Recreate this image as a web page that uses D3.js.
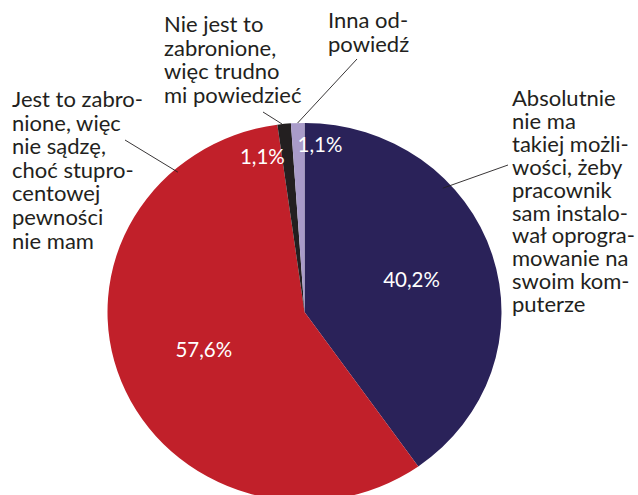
<!DOCTYPE html>
<html>
<head>
<meta charset="utf-8">
<script src="https://cdn.jsdelivr.net/npm/d3@7"></script>
<style>
  body { margin: 0; background: #fff; }
  svg { display: block; }
  .lbl { font-family: Lato, "Open Sans", sans-serif; font-size: 22px; fill: #231f20; }
  .pct { font-family: Lato, "Open Sans", sans-serif; font-size: 20.5px; fill: #fff; }
</style>
</head>
<body>
<div id="chart"></div>
<script>
// data, clockwise from 12 o'clock
const categories = [
    "Absolutnie nie ma takiej możliwości, żeby pracownik sam instalował oprogramowanie na swoim komputerze",
    "Jest to zabronione, więc nie sądzę, choć stuprocentowej pewności nie mam",
    "Nie jest to zabronione, więc trudno mi powiedzieć",
    "Inna odpowiedź"
];
const values = [40.2, 57.6, 1.1, 1.1];
const valueLabels = ["40,2%", "57,6%", "1,1%", "1,1%"];
const labelLines = [
    ["Absolutnie", "nie ma", "takiej możli-", "wości, żeby", "pracownik", "sam instalo-", "wał oprogra-", "mowanie na", "swoim kom-", "puterze"],
    ["Jest to zabro-", "nione, więc", "nie sądzę,", "choć stupro-", "centowej", "pewności", "nie mam"],
    ["Nie jest to", "zabronione,", "więc trudno", "mi powiedzieć"],
    ["Inna od-", "powiedź"]
];
const colors = ["#2a2259", "#c1202a", "#231f20", "#a99bc9"];

const width = 638, height = 495;
const cx = 304.5, cy = 312, r = 197, ky = 0.96;

// label blocks: left x, first baseline, line step, leader start, leader end (angle deg, radius factor)
const labelPos = [
    {x: 512, y: 106, step: 22.9, lx: 508, ly: 165, ea: 47,    ek: 0.96},
    {x: 12,  y: 107, step: 23.6, lx: 125, ly: 140, ea: 319,   ek: 0.98},
    {x: 164, y: 32,  step: 23.5, lx: 263, ly: 112, ea: 353.5, ek: 1.0},
    {x: 328, y: 28,  step: 24.2, lx: 357, ly: 59,  ea: 358,   ek: 1.0}
];
// percent labels: radius factor, anchor, small nudge
const pctPos = [
    {k: 0.57, anchor: "middle", dx: 0, dy: 0},
    {k: 0.55, anchor: "middle", dx: 0, dy: 0},
    {k: 0.87, anchor: "end", dx: -2, dy: 8},
    {k: 0.87, anchor: "start", dx: -1, dy: -3}
];

const svg = d3.select("#chart")
    .append("svg")
    .attr("width", width)
    .attr("height", height);

const pie = d3.pie().sort(null).value(d => d);
const arcs = pie(values);
const arc = d3.arc().innerRadius(0).outerRadius(r);

const g = svg.append("g")
    .attr("transform", `translate(${cx},${cy}) scale(1,${ky})`);

g.selectAll("path")
    .data(arcs)
    .enter()
    .append("path")
    .attr("d", arc)
    .attr("fill", (d, i) => colors[i]);

// point on the (squashed) pie at angle a, radius factor k
function pt(a, k) {
    return [cx + k * r * Math.sin(a), cy - k * r * ky * Math.cos(a)];
}

// leader lines from label to slice
labelPos.forEach(p => {
    const end = pt(p.ea * Math.PI / 180, p.ek);
    svg.append("line")
        .attr("x1", p.lx).attr("y1", p.ly)
        .attr("x2", end[0]).attr("y2", end[1])
        .attr("stroke", "#231f20")
        .attr("stroke-width", 0.9);
});

// category labels
labelLines.forEach((lines, i) => {
    const p = labelPos[i];
    const t = svg.append("text")
        .attr("class", "lbl")
        .attr("x", p.x)
        .attr("y", p.y);
    lines.forEach((s, j) => {
        t.append("tspan")
            .attr("x", p.x)
            .attr("y", p.y + j * p.step)
            .text(s);
    });
});

// percentages
arcs.forEach((d, i) => {
    const q = pctPos[i];
    const m = (d.startAngle + d.endAngle) / 2;
    const c = pt(m, q.k);
    svg.append("text")
        .attr("class", "pct")
        .attr("x", c[0] + q.dx)
        .attr("y", c[1] + q.dy)
        .attr("dy", "0.35em")
        .attr("text-anchor", q.anchor)
        .text(valueLabels[i]);
});
</script>
</body>
</html>
